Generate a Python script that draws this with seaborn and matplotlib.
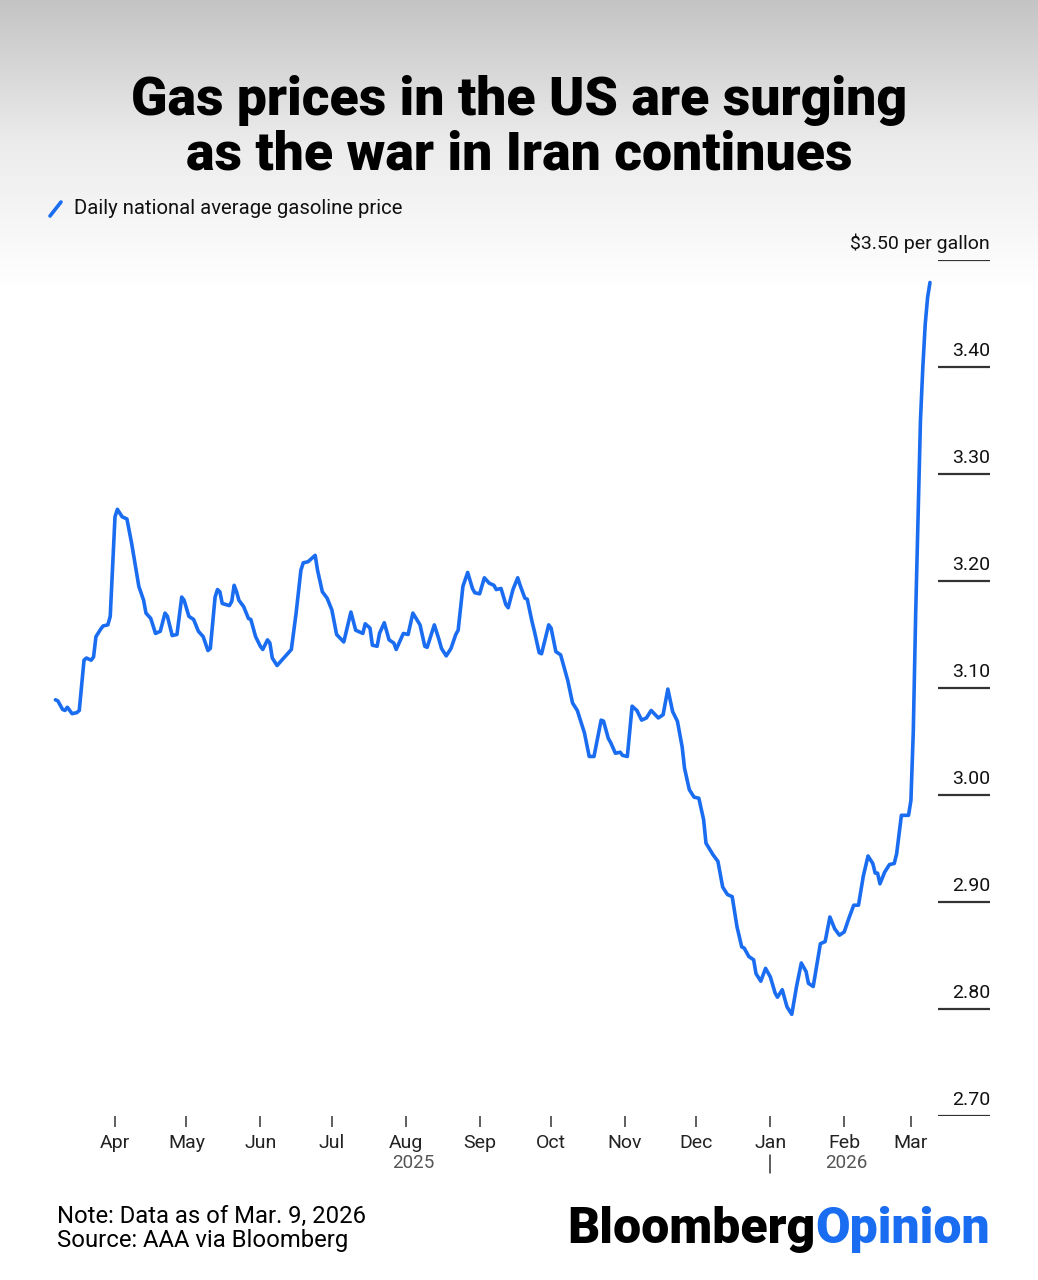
import matplotlib
matplotlib.use("Agg")
import matplotlib.pyplot as plt
import matplotlib.dates as mdates
import numpy as np
import pandas as pd
import seaborn as sns
from matplotlib.colors import LinearSegmentedColormap
from matplotlib.lines import Line2D

# daily national average gasoline price
dates = [
    "2025-03-07", "2025-03-08", "2025-03-10", "2025-03-11", "2025-03-12", "2025-03-14",
    "2025-03-16", "2025-03-17", "2025-03-19", "2025-03-20", "2025-03-22", "2025-03-23",
    "2025-03-24", "2025-03-26", "2025-03-27", "2025-03-29", "2025-03-30", "2025-04-01",
    "2025-04-02", "2025-04-04", "2025-04-06", "2025-04-08", "2025-04-11", "2025-04-13",
    "2025-04-14", "2025-04-16", "2025-04-18", "2025-04-20", "2025-04-22", "2025-04-23",
    "2025-04-25", "2025-04-27", "2025-04-29", "2025-04-30", "2025-05-02", "2025-05-04",
    "2025-05-06", "2025-05-08", "2025-05-10", "2025-05-11", "2025-05-13", "2025-05-14",
    "2025-05-15", "2025-05-16", "2025-05-19", "2025-05-20", "2025-05-21", "2025-05-22",
    "2025-05-23", "2025-05-25", "2025-05-27", "2025-05-28", "2025-05-30", "2025-06-01",
    "2025-06-02", "2025-06-04", "2025-06-05", "2025-06-06", "2025-06-08", "2025-06-10",
    "2025-06-12", "2025-06-14", "2025-06-16", "2025-06-18", "2025-06-19", "2025-06-21",
    "2025-06-24", "2025-06-25", "2025-06-27", "2025-06-29", "2025-07-01", "2025-07-03",
    "2025-07-06", "2025-07-09", "2025-07-11", "2025-07-14", "2025-07-15", "2025-07-17",
    "2025-07-18", "2025-07-20", "2025-07-21", "2025-07-23", "2025-07-25", "2025-07-27",
    "2025-07-28", "2025-07-30", "2025-07-31", "2025-08-02", "2025-08-04", "2025-08-07",
    "2025-08-09", "2025-08-10", "2025-08-13", "2025-08-15", "2025-08-16", "2025-08-18",
    "2025-08-20", "2025-08-22", "2025-08-23", "2025-08-25", "2025-08-27", "2025-08-29",
    "2025-08-30", "2025-09-01", "2025-09-03", "2025-09-05", "2025-09-07", "2025-09-08",
    "2025-09-10", "2025-09-12", "2025-09-13", "2025-09-15", "2025-09-17", "2025-09-18",
    "2025-09-20", "2025-09-21", "2025-09-23", "2025-09-24", "2025-09-26", "2025-09-27",
    "2025-09-30", "2025-10-01", "2025-10-03", "2025-10-05", "2025-10-07", "2025-10-08",
    "2025-10-10", "2025-10-12", "2025-10-15", "2025-10-17", "2025-10-19", "2025-10-22",
    "2025-10-23", "2025-10-25", "2025-10-26", "2025-10-28", "2025-10-30", "2025-10-31",
    "2025-11-02", "2025-11-04", "2025-11-06", "2025-11-08", "2025-11-10", "2025-11-12",
    "2025-11-15", "2025-11-17", "2025-11-19", "2025-11-21", "2025-11-23", "2025-11-25",
    "2025-11-26", "2025-11-28", "2025-11-30", "2025-12-02", "2025-12-04", "2025-12-05",
    "2025-12-08", "2025-12-10", "2025-12-12", "2025-12-14", "2025-12-16", "2025-12-18",
    "2025-12-20", "2025-12-21", "2025-12-23", "2025-12-25", "2025-12-26", "2025-12-28",
    "2025-12-30", "2026-01-01", "2026-01-03", "2026-01-04", "2026-01-06", "2026-01-08",
    "2026-01-10", "2026-01-12", "2026-01-14", "2026-01-16", "2026-01-17", "2026-01-19",
    "2026-01-22", "2026-01-24", "2026-01-26", "2026-01-28", "2026-01-30", "2026-02-01",
    "2026-02-03", "2026-02-05", "2026-02-07", "2026-02-09", "2026-02-11", "2026-02-13",
    "2026-02-14", "2026-02-15", "2026-02-16", "2026-02-18", "2026-02-20", "2026-02-22",
    "2026-02-23", "2026-02-25", "2026-02-28", "2026-03-01", "2026-03-02", "2026-03-03",
    "2026-03-04", "2026-03-05", "2026-03-06", "2026-03-07", "2026-03-08", "2026-03-09",
]
prices = [
    3.089, 3.088, 3.080, 3.079, 3.082, 3.076,
    3.077, 3.079, 3.126, 3.128, 3.126, 3.129,
    3.148, 3.155, 3.158, 3.159, 3.167, 3.260,
    3.267, 3.260, 3.258, 3.235, 3.195, 3.182,
    3.170, 3.165, 3.151, 3.153, 3.170, 3.167,
    3.149, 3.150, 3.185, 3.182, 3.167, 3.164,
    3.153, 3.148, 3.135, 3.137, 3.185, 3.192,
    3.190, 3.179, 3.177, 3.181, 3.196, 3.190,
    3.182, 3.176, 3.165, 3.164, 3.148, 3.139,
    3.136, 3.145, 3.142, 3.128, 3.121, 3.126,
    3.131, 3.136, 3.170, 3.210, 3.217, 3.218,
    3.224, 3.210, 3.190, 3.184, 3.173, 3.150,
    3.143, 3.171, 3.154, 3.151, 3.160, 3.156,
    3.140, 3.139, 3.151, 3.161, 3.145, 3.142,
    3.136, 3.146, 3.151, 3.150, 3.170, 3.159,
    3.139, 3.138, 3.159, 3.145, 3.137, 3.130,
    3.137, 3.150, 3.154, 3.195, 3.208, 3.193,
    3.189, 3.188, 3.203, 3.198, 3.196, 3.192,
    3.193, 3.178, 3.175, 3.192, 3.203, 3.196,
    3.184, 3.183, 3.162, 3.153, 3.133, 3.132,
    3.159, 3.156, 3.134, 3.131, 3.115, 3.107,
    3.086, 3.079, 3.058, 3.036, 3.036, 3.070,
    3.069, 3.053, 3.049, 3.039, 3.040, 3.037,
    3.036, 3.083, 3.079, 3.070, 3.072, 3.079,
    3.072, 3.075, 3.099, 3.078, 3.069, 3.045,
    3.025, 3.005, 2.998, 2.997, 2.977, 2.955,
    2.944, 2.938, 2.914, 2.907, 2.905, 2.877,
    2.858, 2.857, 2.849, 2.846, 2.833, 2.826,
    2.838, 2.830, 2.815, 2.811, 2.818, 2.802,
    2.795, 2.821, 2.843, 2.835, 2.824, 2.821,
    2.861, 2.863, 2.886, 2.875, 2.869, 2.872,
    2.885, 2.897, 2.897, 2.924, 2.943, 2.936,
    2.927, 2.927, 2.917, 2.928, 2.935, 2.936,
    2.945, 2.981, 2.981, 2.995, 3.060, 3.170,
    3.260, 3.350, 3.400, 3.440, 3.465, 3.479,
]

month_ticks = ["2025-04-01", "2025-05-01", "2025-06-01", "2025-07-01", "2025-08-01",
               "2025-09-01", "2025-10-01", "2025-11-01", "2025-12-01", "2026-01-01",
               "2026-02-01", "2026-03-01"]
month_labels = ["Apr", "May", "Jun", "Jul", "Aug", "Sep", "Oct", "Nov", "Dec", "Jan", "Feb", "Mar"]
year_labels = {"2025": "2025-08-04", "2026": "2026-02-02"}

y_ticks = [2.70, 2.80, 2.90, 3.00, 3.10, 3.20, 3.30, 3.40, 3.50]
y_labels = ["2.70", "2.80", "2.90", "3.00", "3.10", "3.20", "3.30", "3.40", "$3.50 per gallon"]

BLUE = "#1a6cf0"
INK = "#111111"

df = pd.DataFrame({"date": pd.to_datetime(dates), "price": prices})

sns.set_theme(style="white")
plt.rcParams["font.family"] = ["Roboto", "DejaVu Sans"]

W, H = 1038, 1280
fig = plt.figure(figsize=(W / 100, H / 100), dpi=100)
fig.patch.set_facecolor("white")

# grey-to-white gradient at the top
bg = fig.add_axes([0, 1 - 290 / H, 1, 290 / H], zorder=-10)
grad = np.linspace(0, 1, 256).reshape(-1, 1)
cmap = LinearSegmentedColormap.from_list("bg", ["#c4c4c4", "#ececec", "#ffffff"])
bg.imshow(grad, aspect="auto", cmap=cmap, extent=[0, 1, 0, 1])
bg.axis("off")

# main plot area (pixels: x 50..990, y 260..1116)
ax = fig.add_axes([50 / W, 1 - 1116 / H, 940 / W, 856 / H])
ax.patch.set_alpha(0)

sns.lineplot(data=df, x="date", y="price", ax=ax, color=BLUE, linewidth=2.6,
             solid_joinstyle="round", solid_capstyle="round")

apr1 = mdates.date2num(pd.Timestamp("2025-04-01"))
px_per_day = 2.383
ax.set_xlim(apr1 + (50 - 115) / px_per_day, apr1 + (990 - 115) / px_per_day)
ax.set_ylim(2.70, 3.50)

for s in ax.spines.values():
    s.set_visible(False)
ax.set_xlabel("")
ax.set_ylabel("")
ax.set_yticks([])

ax.set_xticks(mdates.date2num(pd.to_datetime(month_ticks)))
ax.set_xticklabels(month_labels)
ax.tick_params(axis="x", bottom=True, length=8, width=1.1, color="#333333",
               labelsize=14, labelcolor="#222222", pad=5)

# year labels and the year separator below January
for yr, d in year_labels.items():
    ax.annotate(yr, xy=(mdates.date2num(pd.Timestamp(d)), 0), xycoords=ax.get_xaxis_transform(),
                xytext=(0, -34), textcoords="offset points", ha="center", va="center",
                fontsize=13.5, color="#555555")
jan = mdates.date2num(pd.Timestamp("2026-01-01"))
ax.plot([jan, jan], [-39 / 856, -57 / 856], transform=ax.get_xaxis_transform(),
        color="#333333", lw=1.1, clip_on=False)

# right-hand y ticks: short rule with label sitting on top
ax.hlines(y_ticks, xmin=(938 - 50) / 940, xmax=1.0, transform=ax.get_yaxis_transform(),
          color="#333333", lw=1.6)
for v, lab in zip(y_ticks, y_labels):
    ax.annotate(lab, xy=(1.0, v), xycoords=ax.get_yaxis_transform(),
                xytext=(0, 5), textcoords="offset points", ha="right", va="bottom",
                fontsize=14, color=INK)

# title
fig.text(0.5, 1 - 115 / H, "Gas prices in the US are surging", ha="center", va="baseline",
         fontsize=38.5, weight=900, color="#000000")
fig.text(0.5, 1 - 170 / H, "as the war in Iran continues", ha="center", va="baseline",
         fontsize=38.5, weight=900, color="#000000")

# legend
fig.add_artist(Line2D([50 / W, 61 / W], [1 - 216 / H, 1 - 202 / H], color=BLUE, lw=2.6,
                      solid_capstyle="round", transform=fig.transFigure))
fig.text(74 / W, 1 - 209 / H, "Daily national average gasoline price", ha="left",
         va="center", fontsize=14.6, color=INK)

# footer
fig.text(57 / W, 1 - 1216 / H, "Note: Data as of Mar. 9, 2026", ha="left", va="center",
         fontsize=17.2, color="#000000")
fig.text(57 / W, 1 - 1240 / H, "Source: AAA via Bloomberg", ha="left", va="center",
         fontsize=17.2, color="#000000")

op = fig.text(990 / W, 1 - 1243 / H, "Opinion", ha="right", va="baseline",
              fontsize=36, weight=900, color=BLUE)
ax.annotate("Bloomberg", xy=(0, 0), xycoords=op, ha="right", va="bottom",
            fontsize=36, weight=900, color="#000000")

fig.savefig("out.png", dpi=100)
